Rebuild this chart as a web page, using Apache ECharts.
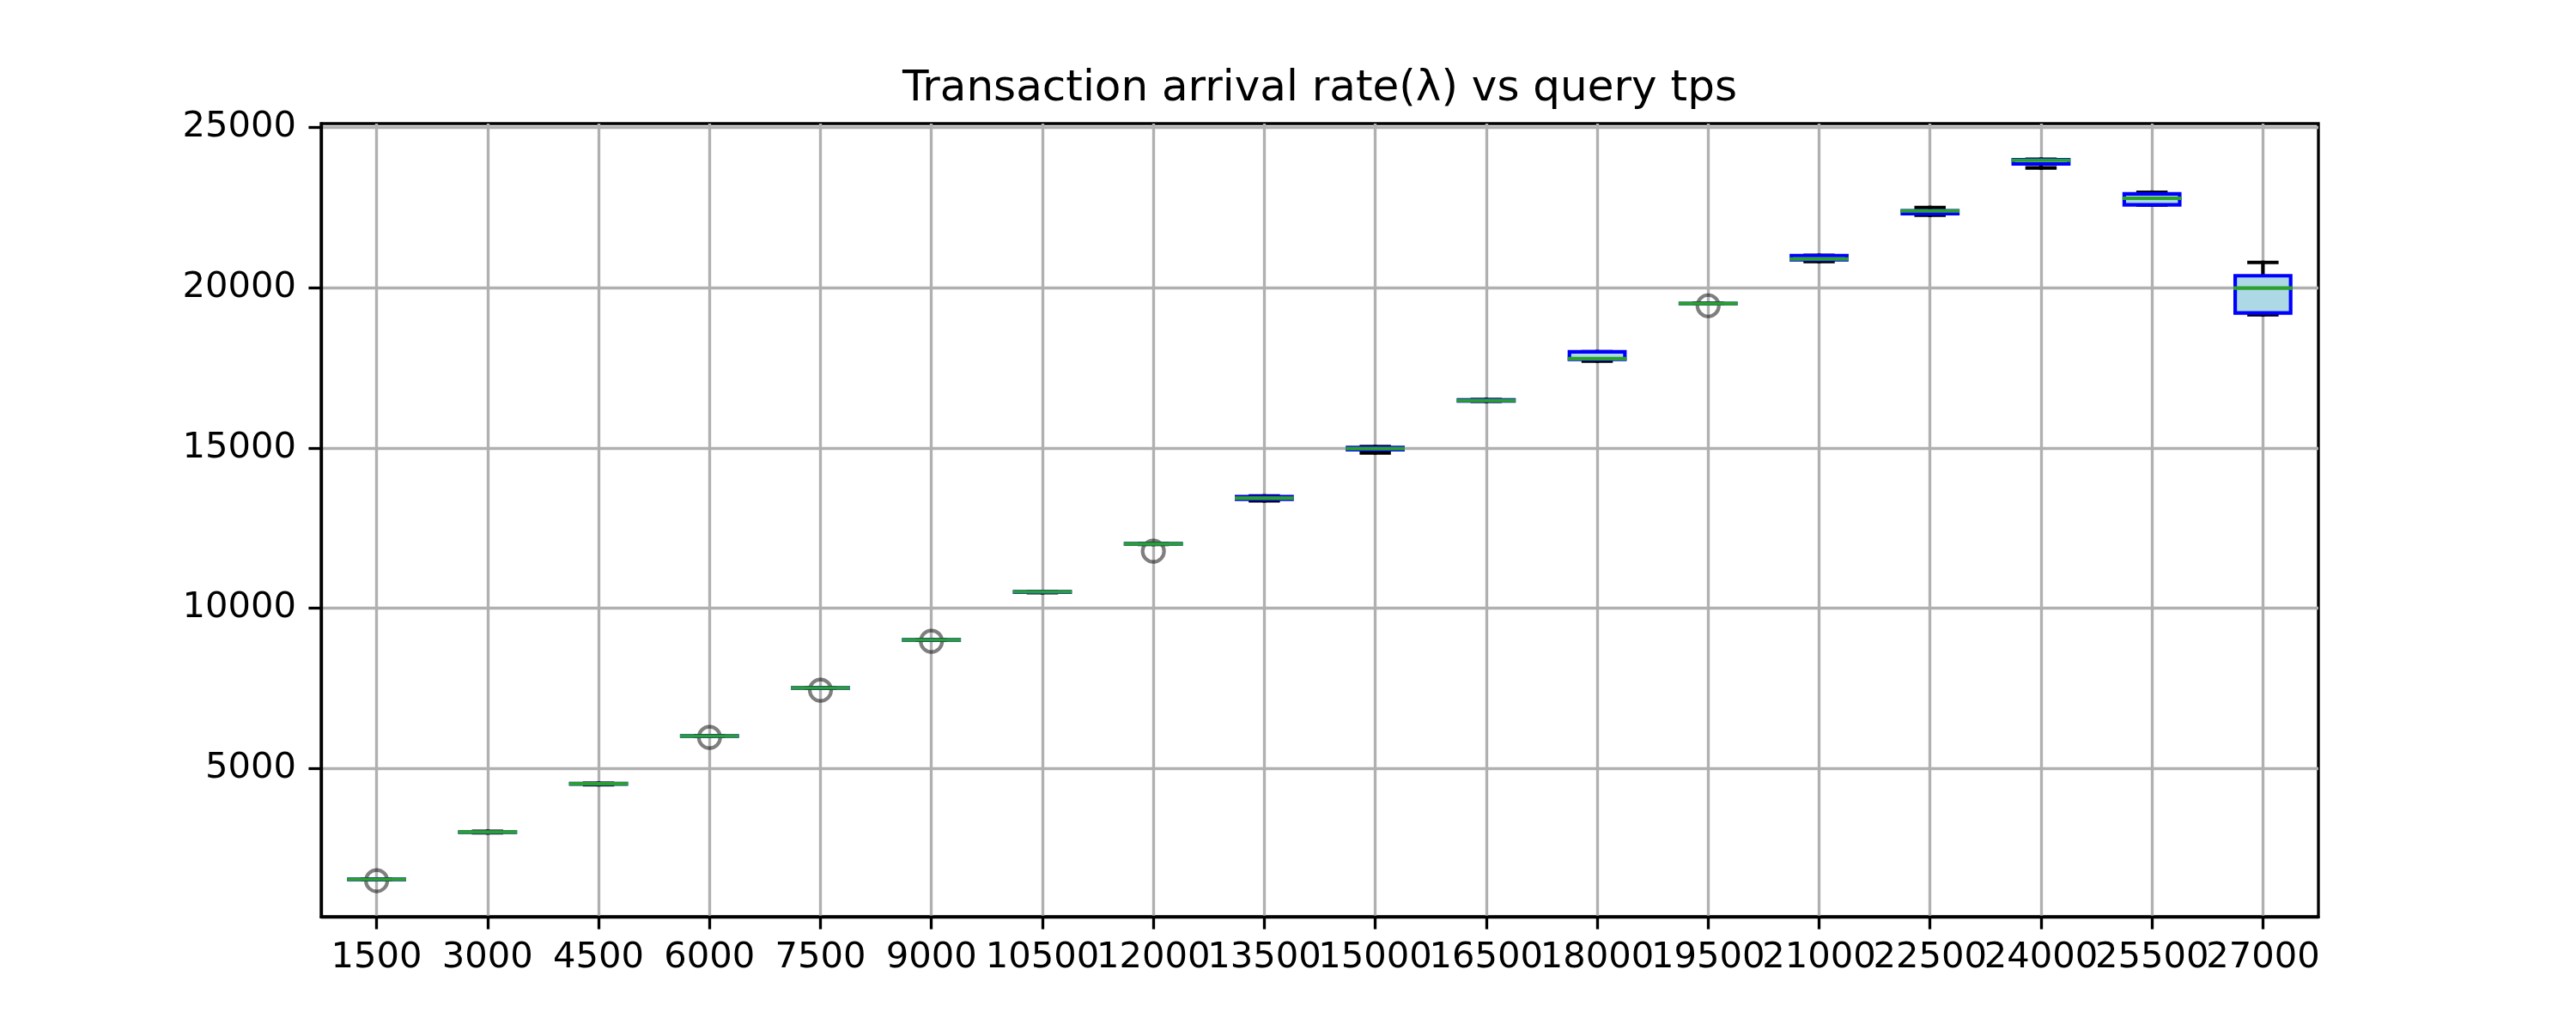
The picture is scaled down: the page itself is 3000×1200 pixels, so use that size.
<!DOCTYPE html>
<html><head><meta charset="utf-8">
<script src="https://cdn.jsdelivr.net/npm/echarts@6/dist/echarts.min.js"></script>
<style>html,body{margin:0;padding:0;background:#fff}#chart{width:3000px;height:1200px}</style>
</head><body><div id="chart"></div>
<script>
// ---- data ----
const titleText = 'Transaction arrival rate(λ) vs query tps';
const categories = ['1500','3000','4500','6000','7500','9000','10500','12000','13500','15000','16500','18000','19500','21000','22500','24000','25500','27000'];
const whiskerLow  = [1528, 2985, 4490, 6000, 7500, 9000, 10480, 11990, 13350, 14846, 16455, 17713, 19500, 20820, 22263, 23739, 22580, 19156];
const quartile1   = [1530, 3000, 4505, 6003, 7503, 9003, 10495, 11995, 13395, 14945, 16465, 17766, 19503, 20873, 22311, 23865, 22588, 19213];
const medians     = [1532, 3007, 4518, 6007, 7507, 9007, 10507, 12007, 13430, 14980, 16480, 17785, 19507, 20897, 22397, 23978, 22794, 19989];
const quartile3   = [1534, 3012, 4525, 6010, 7510, 9010, 10512, 12012, 13480, 15012, 16500, 18000, 19510, 21005, 22405, 23999, 22928, 20375];
const whiskerHigh = [1536, 3030, 4530, 6015, 7512, 9012, 10515, 12015, 13500, 15039, 16510, 18004, 19512, 21010, 22504, 24010, 22981, 20790];
const outliers    = [1490, null, null, 5964, 7437, 8964, null, 11777, null, null, null, null, 19437, null, null, null, null, null];
const yTicks = [5000, 10000, 15000, 20000, 25000];
const yMin = 366, yMax = 25124;

// ---- chart ----
const PT = 300 / 72;
const FONT = 'DejaVu Sans';
const rows = categories.map((c, i) => [i, whiskerLow[i], quartile1[i], medians[i], quartile3[i], whiskerHigh[i]]);

const cv = document.createElement('canvas').getContext('2d');
cv.font = (12 * PT) + 'px "' + FONT + '"';
const titleW = cv.measureText(titleText).width;
const gridLeft = 374, gridRight = 300, gridTop = 144, gridBottom = 132;
const plotCenter = gridLeft + (3000 - gridLeft - gridRight) / 2;

function renderItem(params, api) {
  const i = params.dataIndex;
  const idx = api.value(0);
  const band = api.size([1, 0])[0];
  const boxW = band * 0.5, capW = boxW * 0.5;
  const lw = 1 * PT;
  const pLow = api.coord([idx, api.value(1)]);
  const pQ1 = api.coord([idx, api.value(2)]);
  const pMed = api.coord([idx, api.value(3)]);
  const pQ3 = api.coord([idx, api.value(4)]);
  const pHigh = api.coord([idx, api.value(5)]);
  const x = pMed[0];
  const ln = (x1, y1, x2, y2, color) => ({
    type: 'line', shape: {x1, y1, x2, y2},
    style: {stroke: color, lineWidth: lw, lineCap: 'square', fill: null}
  });
  const children = [
    ln(x, pQ1[1], x, pLow[1], '#000'),
    ln(x, pQ3[1], x, pHigh[1], '#000'),
    ln(x - capW / 2, pLow[1], x + capW / 2, pLow[1], '#000'),
    ln(x - capW / 2, pHigh[1], x + capW / 2, pHigh[1], '#000'),
    {type: 'rect', shape: {x: x - boxW / 2, y: pQ3[1], width: boxW, height: pQ1[1] - pQ3[1]},
     style: {fill: '#add8e6', stroke: '#0000ff', lineWidth: lw, lineJoin: 'miter'}}
  ];
  if (outliers[i] != null) {
    const po = api.coord([idx, outliers[i]]);
    children.push({type: 'circle', shape: {cx: po[0], cy: po[1], r: 3 * PT},
      style: {fill: 'none', stroke: 'rgba(0,0,0,0.5)', lineWidth: lw}});
  }
  children.push(ln(x - boxW / 2, pMed[1], x + boxW / 2, pMed[1], '#2ca02c'));
  return {type: 'group', children};
}

const axisLineStyle = {color: '#000', width: 0.8 * PT};
const option = {
  animation: false,
  backgroundColor: '#fff',
  title: {
    text: titleText, left: plotCenter - titleW / 2, top: 79, padding: 0,
    textStyle: {fontSize: 12 * PT, fontFamily: FONT, fontWeight: 'normal', color: '#000'}
  },
  grid: {left: gridLeft, right: gridRight, top: gridTop, bottom: gridBottom, containLabel: false,
         outerBoundsMode: 'none',
         show: true, borderColor: '#000', borderWidth: 0.8 * PT, backgroundColor: 'transparent'},
  xAxis: {
    type: 'category', data: categories, boundaryGap: true,
    axisLine: {show: true, onZero: false, lineStyle: axisLineStyle},
    axisTick: {show: true, alignWithLabel: true, interval: 0, length: 3.5 * PT, lineStyle: axisLineStyle},
    axisLabel: {interval: 0, hideOverlap: false, fontSize: 10 * PT, fontFamily: FONT, color: '#000', margin: 27},
    splitLine: {show: true, alignWithLabel: true, interval: 0, lineStyle: {color: '#b0b0b0', width: 0.8 * PT}}
  },
  yAxis: {
    type: 'value', min: yMin, max: yMax,
    axisLine: {show: true, lineStyle: axisLineStyle},
    axisTick: {show: true, length: 3.5 * PT, lineStyle: axisLineStyle, customValues: yTicks},
    axisLabel: {customValues: yTicks, formatter: v => String(v), fontSize: 10 * PT, fontFamily: FONT, color: '#000', margin: 29},
    splitLine: {show: true, lineStyle: {color: '#b0b0b0', width: 0.8 * PT}}
  },
  series: [{
    type: 'custom', renderItem: renderItem, data: rows,
    encode: {x: 0, y: [1, 2, 3, 4, 5]}, clip: true, z: 3
  }]
};
const chart = echarts.init(document.getElementById('chart'));
chart.setOption(option);
</script>
</body></html>
